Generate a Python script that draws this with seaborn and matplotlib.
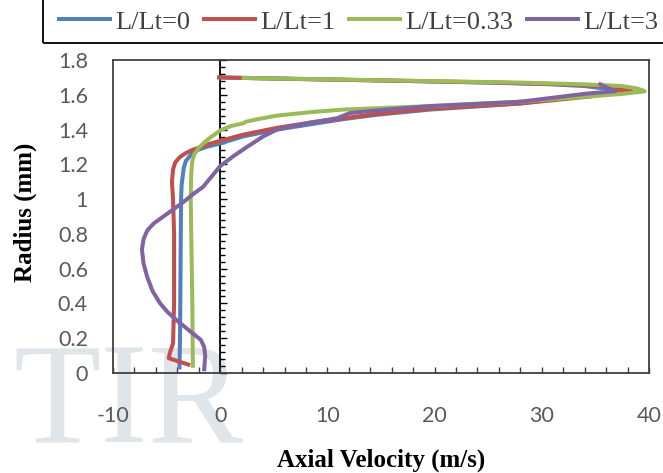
import matplotlib
matplotlib.use("Agg")
import matplotlib.pyplot as plt
import matplotlib.ticker as mticker
from matplotlib.patches import Rectangle
import seaborn as sns
import pandas as pd

# ---------------- data ----------------
labels = ["L/Lt=0", "L/Lt=1", "L/Lt=0.33", "L/Lt=3"]
colors = ["#4F81BD", "#C0504D", "#9BBB59", "#8064A2"]

v_lt0 = [-3.8, -3.75, -3.7, -3.65, -3.6, -3.5, -3.4, -3.2, -2.8, -2.2,
         -1.3, 0.0, 2.1, 5.3, 8.4, 11.5, 14.6, 19.6, 28.0, 34.0,
         36.0, 37.0, 36.0, 34.0, 31.0, 25.0, 17.0, 8.0, -0.2]
r_lt0 = [0.02, 0.2, 0.6, 1.0, 1.08, 1.13, 1.18, 1.22, 1.25, 1.28,
         1.30, 1.32, 1.36, 1.40, 1.43, 1.46, 1.485, 1.515, 1.55, 1.595,
         1.61, 1.62, 1.635, 1.65, 1.66, 1.67, 1.68, 1.69, 1.70]

v_lt1 = [-2.8, -4.8, -4.7, -4.4, -4.3, -4.3, -4.4, -4.5, -4.4, -4.2,
         -3.8, -3.2, -2.5, -1.8, -0.9, 0.0, 2.1, 5.3, 8.4, 11.5,
         14.6, 19.6, 28.0, 34.5, 36.8, 38.4, 37.5, 35.5, 32.0, 26.0,
         17.0, 8.0, 2.0, -0.3]
r_lt1 = [0.045, 0.085, 0.115, 0.17, 0.4, 0.8, 1.0, 1.1, 1.17, 1.21,
         1.24, 1.265, 1.285, 1.30, 1.32, 1.335, 1.37, 1.41, 1.44, 1.465,
         1.49, 1.52, 1.55, 1.59, 1.61, 1.62, 1.635, 1.65, 1.66, 1.67,
         1.68, 1.69, 1.697, 1.70]

v_lt033 = [-2.55, -2.6, -2.7, -2.75, -2.7, -2.6, -2.4, -2.0, -1.4, -0.9,
           0.0, 1.0, 2.1, 2.4, 3.5, 5.3, 8.4, 11.5, 19.6, 28.0,
           34.2, 37.5, 39.6, 39.0, 37.5, 34.0, 28.0, 18.5, 9.0, 2.0]
r_lt033 = [0.03, 0.4, 0.8, 1.0, 1.15, 1.22, 1.26, 1.295, 1.33, 1.355,
           1.395, 1.42, 1.435, 1.445, 1.46, 1.48, 1.50, 1.515, 1.535, 1.56,
           1.59, 1.605, 1.62, 1.635, 1.65, 1.66, 1.67, 1.68, 1.69, 1.697]

v_lt3 = [-1.5, -1.4, -1.5, -1.8, -2.6, -3.4, -4.0, -4.9, -5.6, -6.3,
         -6.8, -7.15, -7.3, -7.15, -6.8, -6.2, -5.3, -4.4, -3.5, -2.5,
         -1.6, -0.8, 0.0, 1.3, 2.5, 4.0, 5.3, 8.4, 10.9, 12.1,
         14.6, 19.6, 28.0, 34.2, 36.8, 35.3]
r_lt3 = [0.01, 0.1, 0.15, 0.19, 0.23, 0.27, 0.30, 0.35, 0.40, 0.47,
         0.55, 0.63, 0.71, 0.77, 0.82, 0.86, 0.90, 0.94, 0.98, 1.03,
         1.07, 1.13, 1.19, 1.25, 1.30, 1.36, 1.40, 1.44, 1.465, 1.495,
         1.51, 1.535, 1.56, 1.607, 1.62, 1.665]

x_ticks = [-10, 0, 10, 20, 30, 40]
y_ticks = [0, 0.2, 0.4, 0.6, 0.8, 1.0, 1.2, 1.4, 1.6, 1.8]
y_tick_labels = ["0", "0.2", "0.4", "0.6", "0.8", "1", "1.2", "1.4", "1.6", "1.8"]

# ---------------- frame ----------------
frames = []
for lab, v, r in zip(labels, [v_lt0, v_lt1, v_lt033, v_lt3],
                     [r_lt0, r_lt1, r_lt033, r_lt3]):
    frames.append(pd.DataFrame({"velocity": v, "radius": r, "series": lab}))
df = pd.concat(frames, ignore_index=True)

sns.set_style("white")
plt.rcParams["font.family"] = ["Lato", "DejaVu Sans"]
plt.rcParams["axes.unicode_minus"] = False

W, H = 663, 473
fig = plt.figure(figsize=(W / 100, H / 100), dpi=100)
ax = fig.add_axes([113 / W, 1 - 373 / H, (649 - 113) / W, (373 - 60) / H])
ax.set_facecolor("none")

# watermark
fig.text(13 / W, 0.0, "TIR", fontsize=103, family="Liberation Serif",
         color="#e0e5ea", ha="left", va="bottom", zorder=-5)

sns.lineplot(data=df, x="velocity", y="radius", hue="series",
             hue_order=labels, palette=dict(zip(labels, colors)),
             sort=False, estimator=None, units="series", linewidth=2.9,
             legend=False, ax=ax)
for ln in ax.lines:
    ln.set_solid_joinstyle("round")
    ln.set_solid_capstyle("butt")

ax.set_xlim(-10, 40)
ax.set_ylim(0, 1.8)

# x axis
ax.set_xticks(x_ticks)
ax.xaxis.set_minor_locator(mticker.MultipleLocator(2))
ax.tick_params(axis="x", which="both", direction="in", length=4.5, width=1,
               color="#404040", pad=24, labelsize=15.5, labelcolor="#595959")
ax.tick_params(axis="x", which="both", top=False, bottom=True)

# y axis labels on left (no marks)
ax.set_yticks(y_ticks)
ax.set_yticklabels(y_tick_labels)
ax.tick_params(axis="y", which="both", length=0, pad=18, labelsize=15.5,
               labelcolor="#595959")

for sp in ax.spines.values():
    sp.set_color("#404040")
    sp.set_linewidth(1.3)

# vertical axis line at x = 0 with ticks pointing right
sec = ax.secondary_yaxis(0.2)
sec.set_yticks(y_ticks)
sec.yaxis.set_minor_locator(mticker.MultipleLocator(0.04))
sec.tick_params(axis="y", which="major", direction="in", length=5, width=1,
                color="black", labelleft=False, labelright=False)
sec.tick_params(axis="y", which="minor", direction="in", length=3.6, width=1,
                color="black")
for sp in sec.spines.values():
    sp.set_color("black")
    sp.set_linewidth(1.3)

# axis titles
ax.set_xlabel("Axial Velocity (m/s)", family="Liberation Serif",
              fontweight="bold", fontsize=18, color="black")
ax.xaxis.set_label_coords(0.5, (373 - 460) / 313)
ax.xaxis.label.set_va("center")
ax.set_ylabel("Radius (mm)", family="Liberation Serif", fontweight="bold",
              fontsize=18, color="black")
ax.yaxis.set_label_coords((25 - 113) / 536, (373 - 212) / 313)
ax.yaxis.label.set_va("center")

# legend box (extends beyond the top/right of the image)
fig.patches.append(Rectangle((43 / W, 1 - 43 / H), 1.2, 0.3,
                             transform=fig.transFigure, fill=False,
                             edgecolor="black", linewidth=1.3, clip_on=False))
handles = ax.lines[:4]
leg = fig.legend(handles, labels, loc="center left",
                 bbox_to_anchor=(57 / W, 1 - 22 / H), ncol=4, frameon=False,
                 prop={"family": "Liberation Serif", "size": 19},
                 handlelength=2.08, handletextpad=0.12, columnspacing=0.45,
                 borderpad=0, borderaxespad=0, labelcolor="#404040")
for lh in leg.get_lines():
    lh.set_linewidth(2.9)

fig.savefig("out.png", dpi=100)
